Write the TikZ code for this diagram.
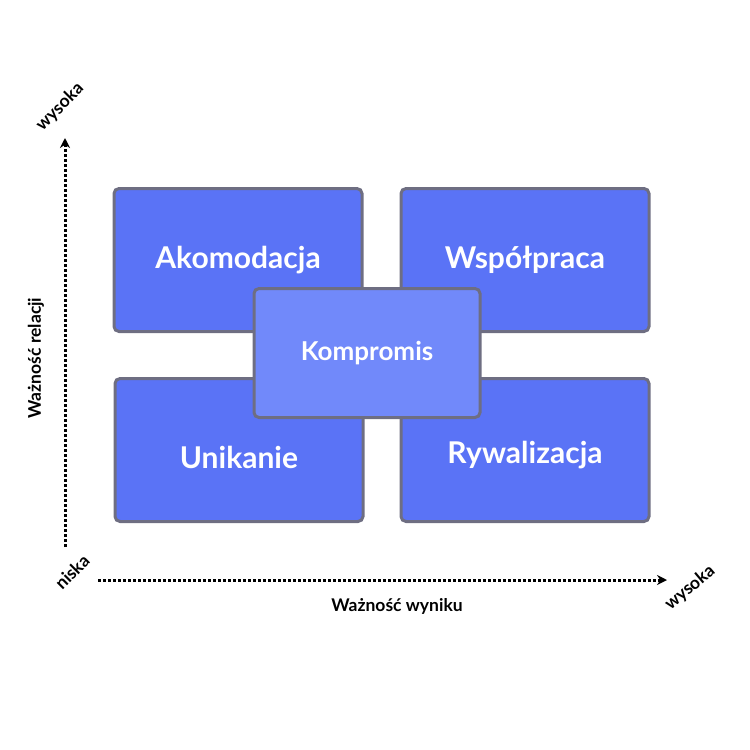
\documentclass[tikz,border=0pt]{standalone}
\usepackage{fontspec}
\setmainfont{Lato}
\usetikzlibrary{arrows.meta}
\definecolor{boxblue}{HTML}{5A73F6}
\definecolor{boxlight}{HTML}{7189FA}
\definecolor{boxedge}{HTML}{6E6E82}
\tikzset{
  quad/.style={draw=boxedge, line width=3pt, rounded corners=5pt, fill=boxblue, text=white,
    minimum width=248pt, minimum height=143pt, font=\fontsize{30}{30}\selectfont\bfseries},
  axis/.style={line width=3pt, dotted, -{Stealth[length=10pt,width=10pt]}},
  lbl/.style={font=\fontsize{17.5}{17.5}\selectfont\bfseries}
}
\begin{document}
\begin{tikzpicture}[x=1pt,y=-1pt]
	\useasboundingbox (0,0) rectangle (750,750);
	\node [quad] (akom) at (238,260) {Akomodacja};
	\node [quad] (wspol) at (525,260) {Współpraca};
	\node [quad, text height=36pt, text depth=0pt] (unik) at (239,450) {Unikanie};
	\node [quad, text height=26pt, text depth=0pt] (ryw) at (525,450) {Rywalizacja};
	\node [quad, fill=boxlight, minimum width=226pt, minimum height=129pt, font=\fontsize{26}{26}\selectfont\bfseries] (komp) at (367,353) {Kompromis};
	
	\coordinate (o1) at (65,547);
	\coordinate (yend) at (65,138);
	\coordinate (o2) at (98,580);
	\coordinate (xend) at (667,580);
	\draw [axis] (o1) -- (yend);
	\draw [axis] (o2) -- (xend);
	
	\node [lbl, rotate=45] (yhigh) at (60,107) {wysoka};
	\node [lbl, rotate=45] (low) at (72,572) {niska};
	\node [lbl, rotate=40] (xhigh) at (690,588) {wysoka};
	\node [lbl, rotate=90] (ylab) at (36,358) {Ważność relacji};
	\node [lbl] (xlab) at (397,606) {Ważność wyniku};
\end{tikzpicture}
\end{document}
